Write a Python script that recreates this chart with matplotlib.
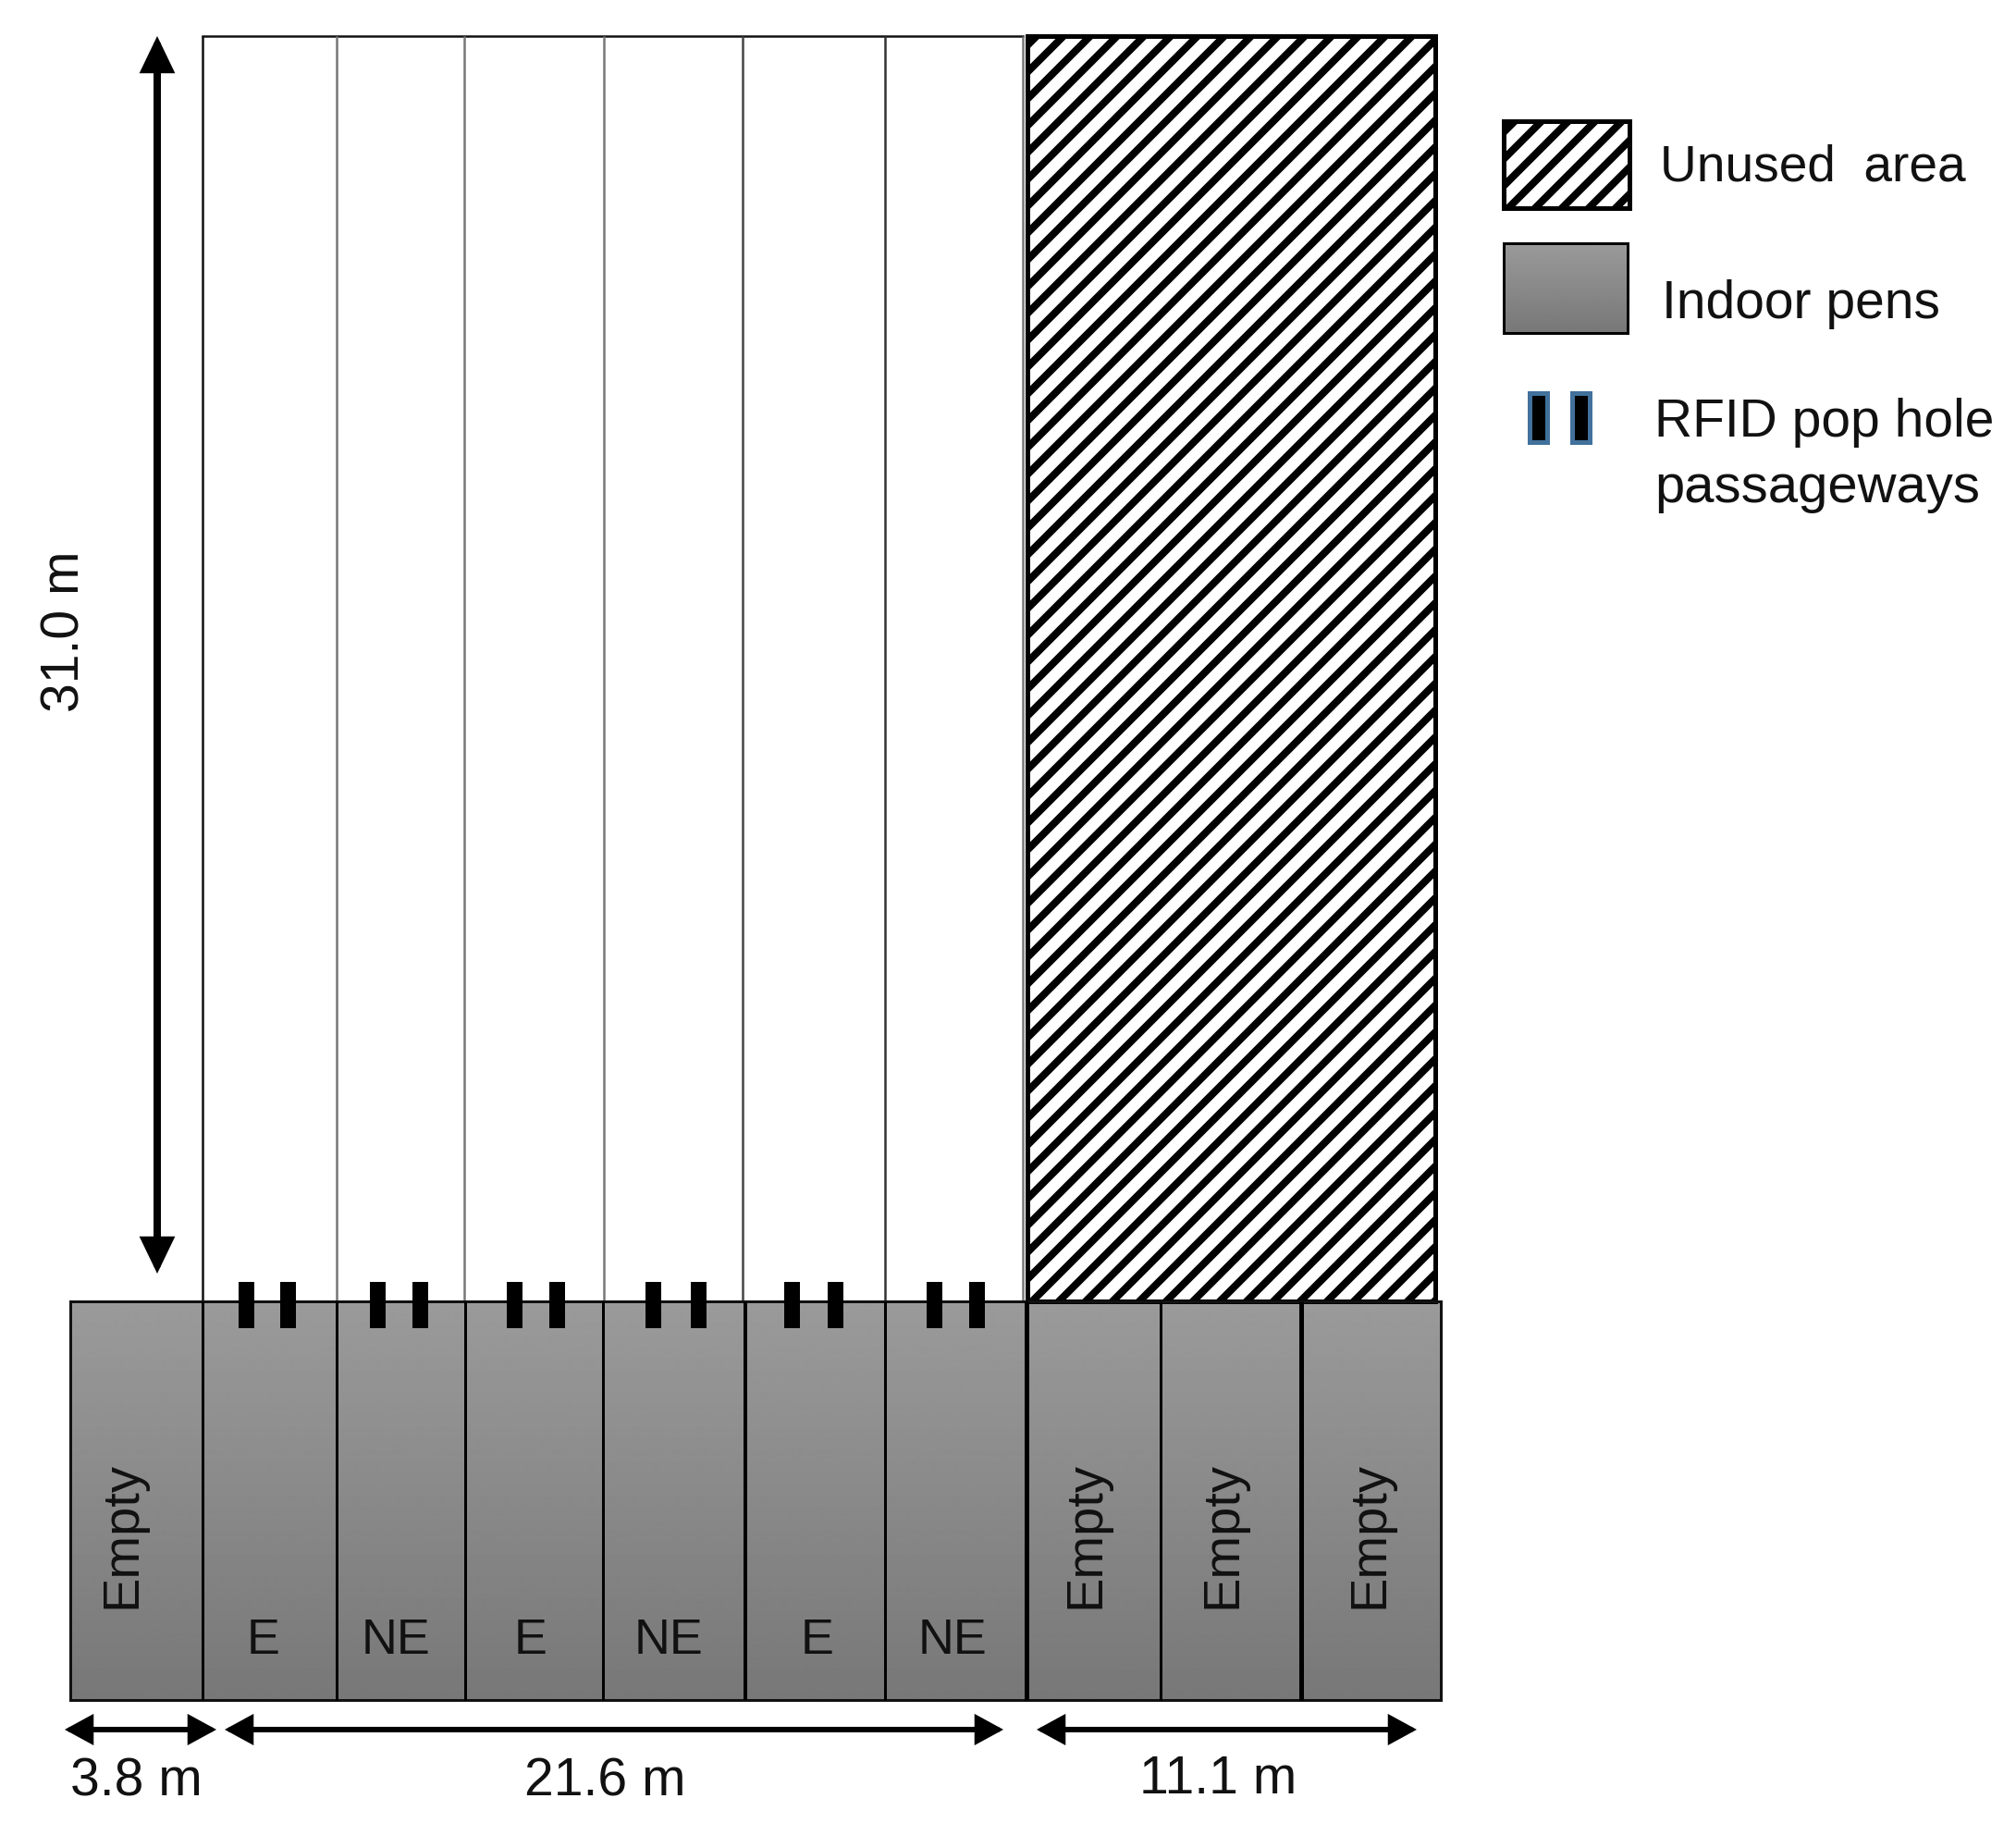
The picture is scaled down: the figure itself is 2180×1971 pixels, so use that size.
import numpy as np
import matplotlib
matplotlib.use("Agg")
import matplotlib.pyplot as plt
from matplotlib.patches import Rectangle, FancyArrowPatch

DPI = 174
PT = 72 / DPI
plt.rcParams['font.family'] = ['Liberation Sans', 'DejaVu Sans']
plt.rcParams['hatch.linewidth'] = 8 * PT
plt.rcParams['hatch.color'] = 'black'

# plan geometry (picture units)
pen_edges = [76, 219, 364, 503, 652, 806, 957, 1110, 1255, 1407, 1558]
pen_lw = [3, 3, 3, 3, 3, 4, 3, 5, 3, 5, 3]
pen_labels = ['Empty', 'E', 'NE', 'E', 'NE', 'E', 'NE', 'Empty', 'Empty', 'Empty']
label_x = [132, 285, 428, 574, 723, 884, 1030, 1174, 1322, 1481]
pen_top, pen_bottom = 1407, 1838
out_edges = [219, 364, 502, 653, 803, 957, 1106]
out_colors = ['#111111', '#777777', '#777777', '#777777', '#444444', '#333333', '#777777']
out_top = 39
unused = (1111, 1552)
hole_left = [258, 303, 400, 446, 548, 594, 698, 747, 848, 895, 1002, 1048]
hole_width = 17
hole_span = (1386, 1436)
dim_h = [(70, 234, '3.8 m', 147, 1927), (243, 1085, '21.6 m', 654, 1927), (1121, 1532, '11.1 m', 1317, 1924)]
dim_v = (170, 39, 1377, '31.0 m', 70, 683)

fig = plt.figure(figsize=(2180 / DPI, 1971 / DPI), dpi=DPI, facecolor='white')
ax = fig.add_axes([0, 0, 1, 1])
ax.set_xlim(0, 2180)
ax.set_ylim(1971, 0)
ax.axis('off')

grad = np.linspace(0, 1, 256).reshape(-1, 1)
def gradient(x0, x1, y0, y1, z=1):
    ax.imshow(0.605 - 0.135 * grad, extent=(x0, x1, y1, y0), cmap='gray', vmin=0, vmax=1,
              aspect='auto', zorder=z, interpolation='bilinear')
    ax.set_xlim(0, 2180)
    ax.set_ylim(1971, 0)

def arrow(p0, p1, w, hl, hw):
    ax.add_patch(FancyArrowPatch(p0, p1, arrowstyle=f'<|-|>,head_length={hl * PT},head_width={hw * PT}',
                                 mutation_scale=1, lw=w * PT, color='black', shrinkA=0, shrinkB=0,
                                 zorder=6, joinstyle='miter'))

# outdoor runs
ax.plot([out_edges[0], out_edges[-1]], [out_top, out_top], color='#111111', lw=2.5 * PT, zorder=2)
for x, c in zip(out_edges, out_colors):
    ax.plot([x, x], [out_top, pen_top], color=c, lw=2.5 * PT, zorder=2, solid_capstyle='butt')

# unused area
ax.add_patch(Rectangle((unused[0], out_top), unused[1] - unused[0], pen_top - out_top, facecolor='white',
                       edgecolor='black', hatch='//', lw=5 * PT, zorder=3))

# indoor pens
gradient(pen_edges[0], pen_edges[-1], pen_top, pen_bottom)
ax.add_patch(Rectangle((pen_edges[0], pen_top), pen_edges[-1] - pen_edges[0], pen_bottom - pen_top, fill=False,
                       edgecolor='#111111', lw=3 * PT, zorder=4))
for x, lw in zip(pen_edges[1:-1], pen_lw[1:-1]):
    ax.plot([x, x], [pen_top, pen_bottom], color='black', lw=lw * PT, zorder=4, solid_capstyle='butt')
for name, lx in zip(pen_labels, label_x):
    if name == 'Empty':
        ax.text(lx, 1660, name, rotation=90, ha='center', va='center', fontsize=56 * PT, color='#111111', zorder=5)
    else:
        ax.text(lx, 1774, name, ha='center', va='center', fontsize=54 * PT, color='#111111', zorder=5)

# pop holes
for x in hole_left:
    ax.add_patch(Rectangle((x, hole_span[0]), hole_width, hole_span[1] - hole_span[0], color='black', lw=0, zorder=5))

# dimensions
for x0, x1, s, tx, ty in dim_h:
    arrow((x0, 1870), (x1, 1870), 6, 22, 12)
    ax.text(tx, ty, s, ha='center', va='center', fontsize=57 * PT, color='#111111')
arrow((dim_v[0], dim_v[1]), (dim_v[0], dim_v[2]), 8, 27, 13)
ax.text(dim_v[4], dim_v[5], dim_v[3], rotation=90, ha='center', va='center', fontsize=57 * PT, color='#111111')

# legend
ax.add_patch(Rectangle((1626, 131), 136, 94, facecolor='white', edgecolor='black', hatch='//', lw=5 * PT, zorder=3))
gradient(1626, 1760, 263, 360)
ax.add_patch(Rectangle((1626, 263), 134, 97, fill=False, edgecolor='black', lw=3 * PT, zorder=4))
for x in (1654, 1700):
    ax.add_patch(Rectangle((x, 425), 19, 53, facecolor='black', edgecolor='#41719c', lw=5 * PT, zorder=4))
legend_text = [('Unused  area', 1795, 181, 55), ('Indoor pens', 1797, 329, 57),
               ('RFID pop hole', 1789, 457, 57), ('passageways', 1789, 528, 58)]
for s, x, y, fs in legend_text:
    ax.text(x, y, s, ha='left', va='center', fontsize=fs * PT, color='#111111')

fig.savefig('out.png', dpi=DPI, facecolor='white')
